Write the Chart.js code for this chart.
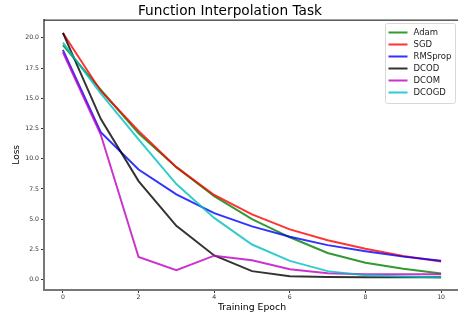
<!DOCTYPE html>
<html>
<head>
<meta charset="utf-8">
<script src="https://cdn.jsdelivr.net/npm/chart.js@4"></script>
<style>
  html, body { margin: 0; padding: 0; background: #fff; overflow: hidden; }
  #wrap { width: 504px; height: 318px; }
</style>
</head>
<body>
<div id="wrap"><canvas id="chart" width="504" height="318"></canvas></div>
<script>
// datos
const epochs = [0, 1, 2, 3, 4, 5, 6, 7, 8, 9, 10];
const adam    = [19.4, 15.7, 12.1, 9.3, 6.9, 5.0, 3.5, 2.2, 1.4, 0.9, 0.5];
const sgd     = [20.4, 15.6, 12.3, 9.3, 7.0, 5.4, 4.15, 3.25, 2.55, 1.95, 1.5];
const rmsprop = [19.0, 12.2, 9.1, 7.05, 5.5, 4.4, 3.55, 2.85, 2.35, 1.9, 1.55];
const dcod    = [20.4, 13.3, 8.15, 4.45, 2.0, 0.7, 0.28, 0.22, 0.2, 0.2, 0.2];
const dcom    = [18.8, 12.0, 1.87, 0.77, 1.98, 1.6, 0.85, 0.52, 0.45, 0.45, 0.45];
const dcogd   = [19.6, 15.4, 11.6, 7.9, 5.1, 2.9, 1.55, 0.7, 0.35, 0.25, 0.18];
const xTicks = [0, 2, 4, 6, 8, 10];
const yTicks = [0, 2.5, 5, 7.5, 10, 12.5, 15, 17.5, 20];

const series = [
  { label: 'Adam', values: adam, color: 'rgba(0,128,0,0.8)' },
  { label: 'SGD', values: sgd, color: 'rgba(255,0,0,0.8)' },
  { label: 'RMSprop', values: rmsprop, color: 'rgba(0,0,255,0.8)' },
  { label: 'DCOD', values: dcod, color: 'rgba(0,0,0,0.8)' },
  { label: 'DCOM', values: dcom, color: 'rgba(191,0,191,0.8)' },
  { label: 'DCOGD', values: dcogd, color: 'rgba(0,191,191,0.8)' }
];

const FONT = 'DejaVu Sans';

// spine superior negro
const topSpine = {
  id: 'topSpine',
  afterDatasetsDraw(chart) {
    const { ctx, chartArea } = chart;
    ctx.save();
    ctx.strokeStyle = '#000';
    ctx.lineWidth = 1;
    ctx.beginPath();
    ctx.moveTo(chartArea.left, chartArea.top + 0.5);
    ctx.lineTo(chartArea.right, chartArea.top + 0.5);
    ctx.stroke();
    ctx.restore();
  }
};

// leyenda dentro del área, arriba a la derecha
const boxLegend = {
  id: 'boxLegend',
  afterDraw(chart) {
    const { ctx } = chart;
    const x0 = 385.5, y0 = 23.5, w = 70, h = 80;
    ctx.save();
    ctx.fillStyle = 'rgba(255,255,255,0.8)';
    ctx.strokeStyle = '#d8d8d8';
    ctx.lineWidth = 1;
    ctx.beginPath();
    ctx.roundRect(x0, y0, w, h, 2);
    ctx.fill();
    ctx.stroke();
    ctx.font = '8.5px "' + FONT + '"';
    ctx.textBaseline = 'middle';
    chart.data.datasets.forEach((ds, i) => {
      const y = 32.5 + i * 12;
      ctx.strokeStyle = ds.borderColor;
      ctx.lineWidth = 2;
      ctx.beginPath();
      ctx.moveTo(388.5, y);
      ctx.lineTo(407.5, y);
      ctx.stroke();
      ctx.fillStyle = '#222';
      ctx.fillText(ds.label, 413.5, y);
    });
    ctx.restore();
  }
};

new Chart(document.getElementById('chart'), {
  type: 'line',
  data: {
    datasets: series.map((s, i) => ({
      label: s.label,
      data: epochs.map((e, j) => ({ x: e, y: s.values[j] })),
      borderColor: s.color,
      backgroundColor: s.color,
      borderWidth: 2,
      pointRadius: 0,
      tension: 0,
      order: series.length - i
    }))
  },
  options: {
    responsive: false,
    animation: false,
    layout: { padding: { left: 0, right: 44, top: 0, bottom: 0 } },
    plugins: {
      legend: { display: false },
      tooltip: { enabled: false },
      title: {
        display: true,
        text: 'Function Interpolation Task',
        color: '#000',
        font: { family: FONT, size: 13.7, weight: 'normal' },
        padding: { top: 3, bottom: 0.2 }
      }
    },
    scales: {
      x: {
        type: 'linear',
        min: -0.5,
        max: 10.5,
        afterFit: (scale) => { scale.height = 28; },
        afterBuildTicks: (scale) => { scale.ticks = xTicks.map(v => ({ value: v })); },
        grid: { display: true, drawOnChartArea: false, drawTicks: true, tickLength: 3, color: '#333', tickWidth: 1 },
        border: { display: true, color: '#777', width: 2 },
        ticks: { font: { family: FONT, size: 6.2 }, color: '#333', padding: 1, maxRotation: 0 },
        title: {
          display: true,
          text: 'Training Epoch',
          color: '#000',
          font: { family: FONT, size: 9.3 },
          padding: { top: 0, bottom: 5 }
        }
      },
      y: {
        type: 'linear',
        min: -0.86,
        max: 21.5,
        afterFit: (scale) => { scale.width = 44; },
        afterBuildTicks: (scale) => { scale.ticks = yTicks.map(v => ({ value: v })); },
        grid: { display: true, drawOnChartArea: false, drawTicks: true, tickLength: 3, color: '#333', tickWidth: 1 },
        border: { display: true, color: '#777', width: 2 },
        ticks: {
          font: { family: FONT, size: 6.2 },
          color: '#333',
          padding: 2,
          callback: (v) => Number(v).toFixed(1)
        },
        title: {
          display: true,
          text: 'Loss',
          color: '#000',
          font: { family: FONT, size: 9 },
          padding: { top: 11, bottom: 0 }
        }
      }
    }
  },
  plugins: [topSpine, boxLegend]
});
</script>
</body>
</html>
